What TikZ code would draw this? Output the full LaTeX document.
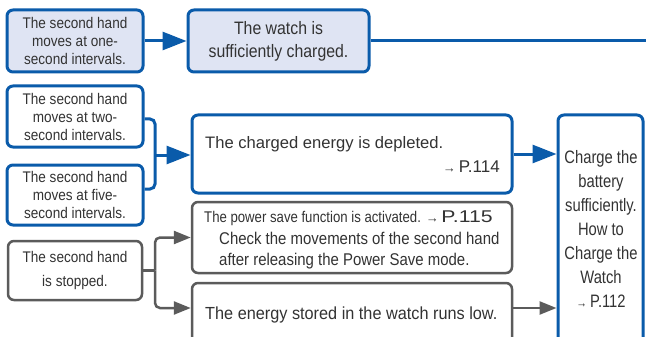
\documentclass[tikz,border=0pt]{standalone}
\usepackage{fontspec}
\setmainfont{Liberation Sans}
\newfontfamily\condfont[FakeStretch=0.85]{Liberation Sans}
\newfontfamily\narrowfont[FakeStretch=0.88]{Liberation Sans}
\newfontfamily\narrowbfont[FakeStretch=0.93]{Liberation Sans}
\newfontfamily\chfont[FakeStretch=0.82]{Liberation Sans}
\newfontfamily\widefont[FakeStretch=1.25]{Liberation Sans}
\usetikzlibrary{arrows.meta}
\definecolor{bblue}{HTML}{0A5BAA}
\definecolor{lblue}{HTML}{DFE4F3}
\definecolor{ggray}{HTML}{5B5B5B}
\definecolor{tgray}{HTML}{333333}
\begin{document}
\begin{tikzpicture}[x=1pt,y=-1pt,
  bluebox/.style={draw=bblue, line width=3pt, rounded corners=6pt, inner sep=0pt, text=tgray, align=center},
  graybox/.style={draw=ggray, line width=2.5pt, rounded corners=6pt, inner sep=0pt, fill=white, text=tgray, align=center},
  bline/.style={draw=bblue, line width=3pt},
  gline/.style={draw=ggray, line width=2.5pt},
  barr/.style={bline, -{Triangle[length=24pt,width=18pt]}},
  garr/.style={gline, -{Triangle[length=17pt,width=13pt]}},
  txt/.style={text=tgray, inner sep=0pt},
  small/.style={font=\narrowfont\fontsize{15.4}{18}\selectfont},
]
\useasboundingbox (0,0) rectangle (646,337);

% top row
\node[bluebox, fill=lblue, minimum width=136pt, minimum height=62pt, small] (b1) at (75,41)
  {The second hand\\moves at one-\\second intervals.};
\node[bluebox, fill=lblue, minimum width=181pt, minimum height=62pt, font=\narrowfont\fontsize{18}{23}\selectfont] (b2) at (278.5,41)
  {The watch is\\sufficiently charged.};
\coordinate (r1) at (652,41);
\draw[barr] (b1) -- (b2);
\draw[bline] (b2.east) -- (r1);

% two/five second
\node[bluebox, fill=white, minimum width=136pt, minimum height=61pt, small] (b3) at (75,116.5)
  {The second hand\\moves at two-\\second intervals.};
\node[bluebox, fill=white, minimum width=136pt, minimum height=60pt, small] (b4) at (75,195)
  {The second hand\\moves at five-\\second intervals.};
\node[bluebox, fill=white, minimum width=320pt, minimum height=78pt] (b5) at (352,154) {};
\node[txt, anchor=base west, font=\fontsize{16.6}{20}\selectfont] (t5a) at (205,148.5) {The charged energy is depleted.};
\node[txt, anchor=base east, font=\fontsize{17}{20}\selectfont] (t5b) at (500,172.5) {{\fontsize{13}{18}\selectfont→}\,P.114};

\coordinate (j1) at (155,155);
\draw[bline, rounded corners=5pt] (b3.east |- 0,119) -| (j1) |- (b4.east |- 0,189);
\draw[barr] (j1) -- (b5.west |- j1);

% charge box
\node[bluebox, fill=white, minimum width=85pt, minimum height=235pt] (b9) at (600.5,232.5) {};
\node[txt, align=center, font=\chfont\fontsize{18}{24}\selectfont] (t9) at (601,228.5)
  {Charge the\\battery\\sufficiently.\\How to\\Charge the\\Watch\\{\fontsize{13}{18}\selectfont→}\,P.112};
\draw[barr] (b5.east) -- (b9.west |- b5.east);

% stopped
\node[graybox, minimum width=134pt, minimum height=59pt, font=\narrowfont\fontsize{15.4}{24}\selectfont] (b6) at (75,270.5)
  {The second hand\\is stopped.};
\node[graybox, minimum width=320pt, minimum height=71pt] (b7) at (352,237.5) {};
\node[txt, anchor=base west, font=\condfont\fontsize{15.5}{18}\selectfont] (t7a) at (204,222)
  {The power save function is activated. {\normalfont\fontsize{13}{18}\selectfont→}\,{\widefont\fontsize{17}{18}\selectfont P.115}};
\node[txt, anchor=base west, font=\narrowfont\fontsize{17}{20}\selectfont] (t7b) at (219,244)
  {Check the movements of the second hand};
\node[txt, anchor=base west, font=\narrowfont\fontsize{17}{20}\selectfont] (t7c) at (219,265.5)
  {after releasing the Power Save mode.};
\node[graybox, minimum width=320pt, minimum height=62pt] (b8) at (352,314) {};
\node[txt, anchor=base west, font=\narrowbfont\fontsize{17.5}{20}\selectfont] (t8) at (205,319)
  {The energy stored in the watch runs low.};

\coordinate (j2) at (155,270.5);
\draw[gline] (b6.east) -- (j2);
\draw[garr, rounded corners=5pt] (j2) |- (b7.west);
\draw[garr, rounded corners=5pt] (j2) |- (b8.west |- 0,308);
\draw[garr] (b8.east |- 0,308) -- (b9.west |- 0,308);
\end{tikzpicture}
\end{document}
